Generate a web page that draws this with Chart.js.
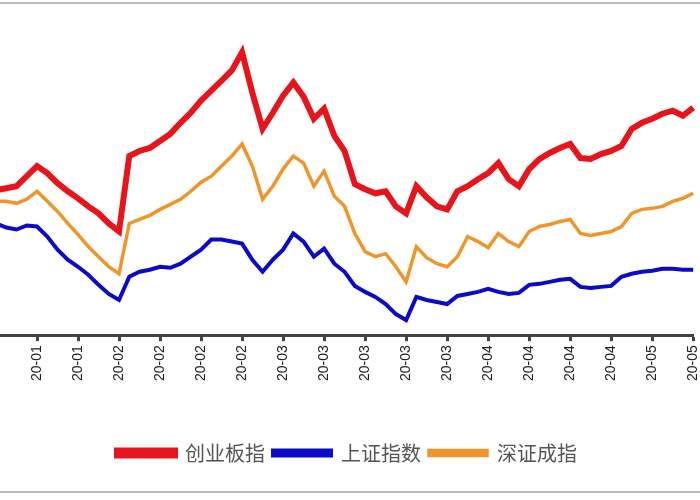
<!DOCTYPE html>
<html><head><meta charset="utf-8">
<script src="https://cdn.jsdelivr.net/npm/chart.js@4"></script>
<style>
html,body{margin:0;padding:0;background:#fff;width:700px;height:500px;overflow:hidden;position:relative}
#wrap{position:absolute;left:-14px;top:0;width:728px;height:500px}
.ln{position:absolute;left:0;width:700px;height:2px;background:#bbb}
</style></head><body>
<div class="ln" style="top:2px"></div>
<div class="ln" style="top:491px"></div>
<div id="wrap"><canvas id="c" width="728" height="500"></canvas></div>
<script>
const tickLabels = ['20-01','20-01','20-01','20-02','20-02','20-02','20-02','20-03','20-03','20-03','20-03','20-03','20-04','20-04','20-04','20-04','20-05','20-05'];
const chinext = [144,146,148,158,168,161,151,143,136,128,121,111,103,178,183,186,193,200,211,221,233,243,253,263,281,241,205,221,238,251,237,215,225,198,183,150,145,141,143,128,121,148,137,128,125,143,148,155,161,171,155,148,165,175,181,186,190,176,175,180,183,188,205,211,215,220,223,218,226];
const shanghai = [111,107,105,109,108,98,85,75,68,60,50,41,35,58,63,65,68,67,71,78,85,95,95,93,91,75,63,75,85,101,93,78,86,71,63,49,43,38,31,21,15,38,35,33,31,39,41,43,46,43,41,42,50,51,53,55,56,48,47,48,49,58,61,63,64,66,66,65,65];
const shenzhen = [133,133,131,135,143,133,123,111,100,88,78,68,61,111,115,119,125,130,135,143,152,158,168,178,190,168,135,148,165,178,171,148,163,138,128,101,83,78,81,68,53,88,77,71,68,78,98,93,87,101,93,88,103,108,110,113,115,101,99,101,103,108,121,125,126,128,133,136,141];
const seriesNames = ['创业板指','上证指数','深证成指'];
const labels = chinext.map((_, i) => i % 4 === 0 ? tickLabels[i / 4] : '');
const ds = (label, data, color, w) => ({label, data, borderColor: color, backgroundColor: color, borderWidth: w, pointRadius: 0, tension: 0, fill: false});
new Chart(document.getElementById('c'), {
  type: 'line',
  data: {labels, datasets: [
    ds(seriesNames[0], chinext, '#e8141b', 6),
    ds(seriesNames[1], shanghai, '#0a0ac8', 4),
    ds(seriesNames[2], shenzhen, '#f0952a', 3.5)
  ]},
  options: {
    responsive: false, animation: false,
    layout: {padding: {left: 10, right: 16, top: 0, bottom: 27}},
    plugins: {
      tooltip: {enabled: false},
      legend: {position: 'bottom', labels: {boxWidth: 58, boxHeight: 5, padding: 8, color: '#555', font: {family: 'Noto Sans CJK SC', size: 20}}}
    },
    scales: {
      y: {display: false, min: 0, max: 333},
      x: {
        offset: false,
        border: {color: '#444', width: 3},
        grid: {drawOnChartArea: false, tickLength: 6, tickWidth: 3, color: ctx => (ctx.index % 4 === 0 ? '#444' : 'rgba(0,0,0,0)')},
        ticks: {autoSkip: false, maxRotation: 90, minRotation: 90, color: '#222', font: {family: 'Liberation Sans', size: 14}, padding: 4},
        title: {display: true, text: ' ', font: {size: 10}, padding: {top: 0, bottom: 38}}
      }
    }
  }
});
</script></body></html>
